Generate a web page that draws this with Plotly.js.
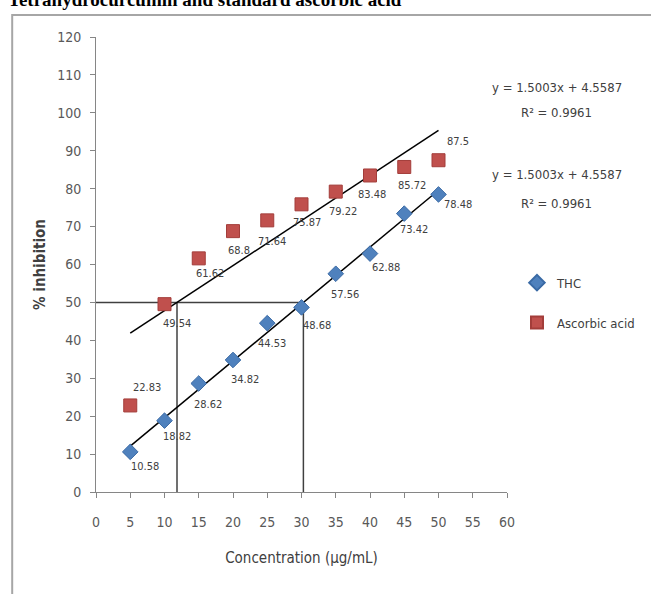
<!DOCTYPE html>
<html>
<head>
<meta charset="utf-8">
<script src="https://cdn.plot.ly/plotly-3.0.1.min.js"></script>
<style>html,body{margin:0;padding:0;background:#fff;}#chart{width:651px;height:594px;}</style>
</head>
<body>
<div id="chart"></div>
<script>
// ---- data ----
const concentration = [5, 10, 15, 20, 25, 30, 35, 40, 45, 50];
const thcValues = [10.58, 18.82, 28.62, 34.82, 44.53, 48.68, 57.56, 62.88, 73.42, 78.48];
const thcLabels = ["10.58", "18.82", "28.62", "34.82", "44.53", "48.68", "57.56", "62.88", "73.42", "78.48"];
const ascorbicValues = [22.83, 49.54, 61.62, 68.8, 71.64, 75.87, 79.22, 83.48, 85.72, 87.5];
const ascorbicLabels = ["22.83", "49.54", "61.62", "68.8", "71.64", "75.87", "79.22", "83.48", "85.72", "87.5"];
const seriesNames = ["THC", "Ascorbic acid"];
const ic50Level = 50;
const equationTexts = ["y = 1.5003x + 4.5587", "R\u00b2 = 0.9961", "y = 1.5003x + 4.5587", "R\u00b2 = 0.9961"];
const chartTitle = "Tetrahydrocurcumin and standard ascorbic acid";
const xTitle = "Concentration (\u00b5g/mL)";
const yTitle = "% inhibition";

// ---- label offsets (pixels, style only) ----
const thcLabelShift = [[15, -15], [12, -16], [9, -21], [12, -20], [5, -20], [15, -18], [9, -21], [16, -14], [10, -16], [19, -10]];
const ascLabelShift = [[17, 18], [12, -19], [11, -15], [6, -19], [5, -21], [5, -18], [7, -20], [2, -19], [8, -19], [19, 19]];

// ---- least squares fits ----
function fit(xs, ys) {
  const n = xs.length;
  const mx = xs.reduce((a, b) => a + b, 0) / n;
  const my = ys.reduce((a, b) => a + b, 0) / n;
  let sxy = 0, sxx = 0;
  for (let i = 0; i < n; i++) { sxy += (xs[i] - mx) * (ys[i] - my); sxx += (xs[i] - mx) ** 2; }
  const m = sxy / sxx;
  return { m: m, b: my - m * mx };
}
const thcFit = fit(concentration, thcValues);
const ascFit = fit(concentration, ascorbicValues);
const xMin = Math.min(...concentration), xMax = Math.max(...concentration);
const thcIC50 = (ic50Level - thcFit.b) / thcFit.m;
const ascIC50 = (ic50Level - ascFit.b) / ascFit.m;

const narrow = "Liberation Sans Narrow, DejaVu Sans Condensed, Arial, sans-serif";
const labelFont = { family: narrow, size: 11, color: "#404040" };
const refLine = { color: "#404040", width: 1.5 };

const traces = [
  { x: [0, thcIC50], y: [ic50Level, ic50Level], mode: "lines", line: refLine, showlegend: false, hoverinfo: "skip" },
  { x: [ascIC50, ascIC50], y: [0, ic50Level], mode: "lines", line: refLine, showlegend: false, hoverinfo: "skip" },
  { x: [thcIC50, thcIC50], y: [0, ic50Level], mode: "lines", line: refLine, showlegend: false, hoverinfo: "skip" },
  { x: [xMin, xMax], y: [thcFit.m * xMin + thcFit.b, thcFit.m * xMax + thcFit.b], mode: "lines",
    line: { color: "#000", width: 1.5 }, showlegend: false, hoverinfo: "skip" },
  { x: [xMin, xMax], y: [ascFit.m * xMin + ascFit.b, ascFit.m * xMax + ascFit.b], mode: "lines",
    line: { color: "#000", width: 1.5 }, showlegend: false, hoverinfo: "skip" },
  { x: concentration, y: thcValues, name: seriesNames[0], mode: "markers", legendgroup: "a",
    marker: { symbol: "diamond", size: 12, color: "#4F81BD", line: { color: "#3A6AA5", width: 1 } } },
  { x: concentration, y: ascorbicValues, name: seriesNames[1], mode: "markers", legendgroup: "b",
    marker: { symbol: "square", size: 13, color: "#C0504D", line: { color: "#A33D3A", width: 1 } } }
];

const annotations = [];
concentration.forEach((c, i) => {
  annotations.push({ x: c, y: thcValues[i], xref: "x", yref: "y", text: thcLabels[i], showarrow: false,
    xanchor: "center", yanchor: "middle", xshift: thcLabelShift[i][0], yshift: thcLabelShift[i][1], font: labelFont });
  annotations.push({ x: c, y: ascorbicValues[i], xref: "x", yref: "y", text: ascorbicLabels[i], showarrow: false,
    xanchor: "center", yanchor: "middle", xshift: ascLabelShift[i][0], yshift: ascLabelShift[i][1], font: labelFont });
});
const eqY = [0.890, 0.833, 0.697, 0.635];
equationTexts.forEach((t, i) => annotations.push({
  text: t, xref: "paper", yref: "paper", x: 1.121, y: eqY[i], showarrow: false,
  xanchor: "center", yanchor: "middle", font: { family: narrow, size: 13, color: "#404040" }
}));
annotations.push({
  text: "<b>" + chartTitle + "</b>", xref: "paper", yref: "paper", x: -0.2184, y: 1.0549,
  xanchor: "left", yanchor: "bottom", showarrow: false,
  font: { family: "Liberation Serif, Times New Roman, serif", size: 19, color: "#000" }
});

const layout = {
  width: 651, height: 594,
  margin: { l: 96, r: 143, t: 37, b: 102, pad: 0 },
  paper_bgcolor: "#fff", plot_bgcolor: "#fff",
  showlegend: true,
  legend: { x: 1.0218, y: 0.493, xanchor: "left", yanchor: "top", traceorder: "grouped",
    itemsizing: "constant", tracegroupgap: 20,
    font: { family: narrow, size: 13, color: "#404040" }, bgcolor: "rgba(0,0,0,0)" },
  xaxis: {
    range: [0, 60], tickmode: "linear", tick0: 0, dtick: 5, showgrid: false, zeroline: false,
    showline: true, linecolor: "#868686", linewidth: 1, ticks: "outside", ticklen: 5, tickcolor: "#868686",
    ticklabelstandoff: 12,
    tickfont: { family: narrow, size: 14, color: "#595959" },
    title: { text: xTitle, font: { family: narrow, size: 15, color: "#404040" }, standoff: 23 }
  },
  yaxis: {
    range: [0, 120], tickmode: "linear", tick0: 0, dtick: 10, showgrid: false, zeroline: false,
    showline: true, linecolor: "#868686", linewidth: 1, ticks: "outside", ticklen: 5, tickcolor: "#868686",
    ticklabelstandoff: 6,
    tickfont: { family: narrow, size: 14, color: "#595959" },
    title: { text: "<b>" + yTitle + "</b>", font: { family: narrow, size: 15, color: "#404040" }, standoff: 7 }
  },
  shapes: [{
    type: "rect", xref: "paper", yref: "paper", x0: -0.2039, x1: 1.6, y0: -0.3, y1: 1.0484,
    line: { color: "#a6a6a6", width: 2 }, fillcolor: "rgba(0,0,0,0)", layer: "below"
  }],
  annotations: annotations
};

Plotly.newPlot("chart", traces, layout, { displayModeBar: false, staticPlot: true });
</script>
</body>
</html>
